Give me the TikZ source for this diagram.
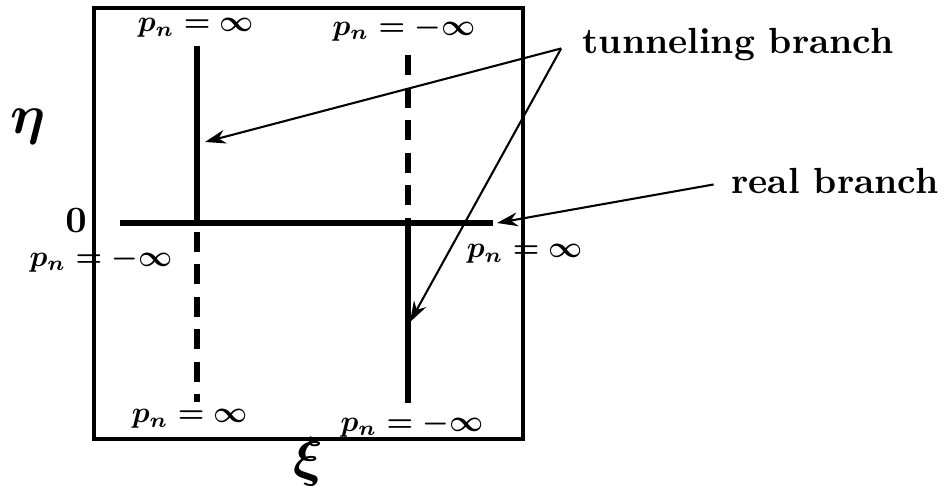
\documentclass[tikz,border=0pt]{standalone}
\usetikzlibrary{arrows.meta}
\begin{document}
\begin{tikzpicture}[x=0.289pt,y=-0.289pt,
  branch/.style={line width=1.45pt},
  dashbranch/.style={line width=1.45pt, dash pattern=on 5.8pt off 3.6pt},
  frame/.style={line width=0.9pt},
  pointer/.style={line width=0.6pt, -{Stealth[length=6pt,width=4pt]}},
  lbl/.style={inner sep=0pt, font=\boldmath, scale=0.86},
  txt/.style={inner sep=0pt, font=\bfseries\fontsize{10.5}{12}\selectfont}
]
\useasboundingbox (0,0) rectangle (949,486);
\draw[frame] (94,8) rectangle (523,439);
% branch end points
\coordinate (L1) at (197,46);
\coordinate (L0) at (197,223);
\coordinate (L2) at (197,402);
\coordinate (R1) at (408,55);
\coordinate (R0) at (408,223);
\coordinate (R2) at (408,403);
\coordinate (H1) at (120,223);
\coordinate (H2) at (493,223);
\draw[branch] (L1) -- (L0);
\draw[dashbranch, dash phase=-2.5pt] (L0) -- (L2);
\draw[dashbranch] (R1) -- (R0);
\draw[branch] (R0) -- (R2);
\draw[branch] (H1) -- (H2);
% labels
\node[lbl] (tl) at (196,28) {$p_n=\infty$};
\node[lbl] (tr) at (404,29) {$p_n=-\infty$};
\node[lbl] (ml) at (101,260) {$p_n=-\infty$};
\node[lbl] (mr) at (525,254) {$p_n=\infty$};
\node[lbl] (bl) at (190,419) {$p_n=\infty$};
\node[lbl] (br) at (412,425) {$p_n=-\infty$};
\node[lbl, scale=1.25] (zero) at (76,221) {$0$};
\node[lbl, scale=1.85] (eta) at (28,127) {$\eta$};
\node[lbl, scale=1.85] (xi) at (308,462) {$\xi$};
\node[txt] (tun) at (738,45) {tunneling branch};
\node[txt] (real) at (835,181) {real branch};
% arrow targets
\coordinate (tA) at (205,142);
\coordinate (tB) at (410,322);
\coordinate (rA) at (497,223);
\draw[pointer] ([xshift=-6pt,yshift=-1pt]tun.west) -- (tA);
\draw[pointer] ([xshift=-6pt,yshift=-1pt]tun.west) -- (tB);
\draw[pointer] ([xshift=-5pt,yshift=-1pt]real.west) -- (rA);
\end{tikzpicture}
\end{document}
